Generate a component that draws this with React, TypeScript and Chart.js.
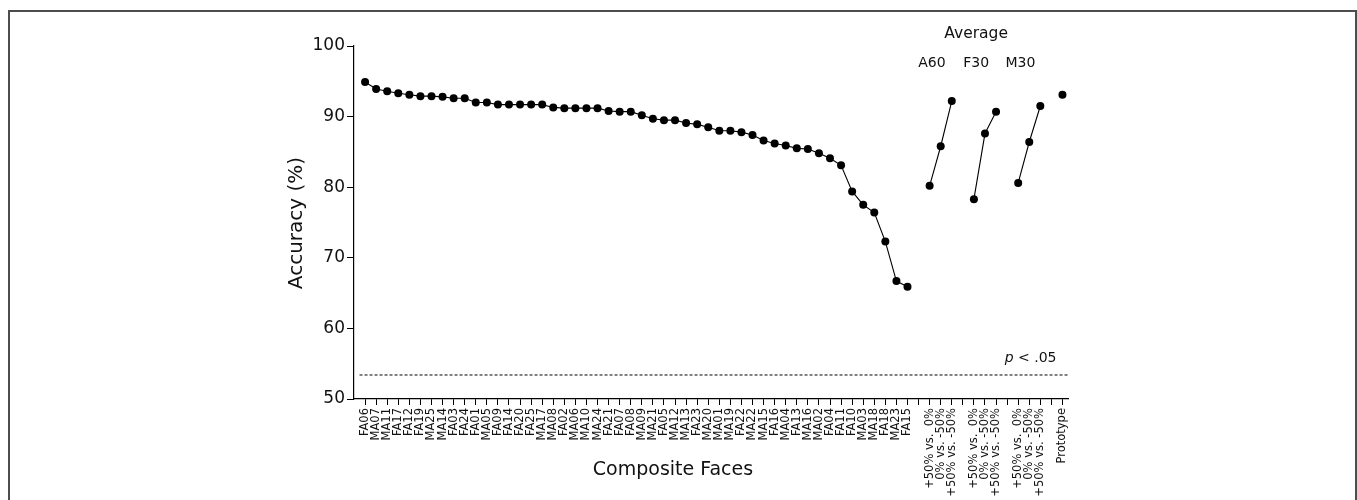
import React, { useEffect, useRef } from "react";
import { Chart, registerables } from "chart.js";

Chart.register(...registerables);

const faceLabels = [
  "FA06", "MA07", "MA11", "FA17", "FA12", "FA19", "MA25", "MA14", "FA03", "FA24",
  "FA01", "MA05", "FA09", "FA14", "FA20", "FA25", "MA17", "MA08", "FA02", "MA06",
  "MA10", "MA24", "FA21", "FA07", "FA08", "MA09", "MA21", "FA05", "MA12", "MA13",
  "FA23", "MA20", "MA01", "MA19", "FA22", "MA22", "MA15", "FA16", "MA04", "FA13",
  "MA16", "MA02", "FA04", "FA11", "FA10", "MA03", "MA18", "FA18", "MA23", "FA15",
];

const faceAccuracy = [
  94.9, 93.9, 93.6, 93.3, 93.1, 92.9, 92.9, 92.8, 92.6, 92.6,
  92.0, 92.0, 91.7, 91.7, 91.7, 91.7, 91.7, 91.3, 91.2, 91.2,
  91.2, 91.2, 90.8, 90.7, 90.7, 90.2, 89.7, 89.5, 89.5, 89.1,
  88.9, 88.5, 88.0, 88.0, 87.8, 87.4, 86.6, 86.2, 85.9, 85.5,
  85.4, 84.8, 84.1, 83.1, 79.4, 77.5, 76.4, 72.3, 66.7, 65.9,
];

const comparisonLabels = ["+50% vs.  0%", "0% vs. -50%", "+50% vs. -50%"];
const groupNames = ["A60", "F30", "M30"];
const a60Accuracy = [80.2, 85.8, 92.2];
const f30Accuracy = [78.3, 87.6, 90.7];
const m30Accuracy = [80.6, 86.4, 91.5];
const prototypeLabel = "Prototype";
const prototypeAccuracy = 93.1;
const chanceThreshold = 53.4;
const yMin = 50;
const yMax = 100;
const yStep = 10;

// Category slots: faces, gap, A60 x3, gap, F30 x3, gap, M30 x3, gap, Prototype
const xLabels: string[] = [
  ...faceLabels,
  "",
  ...comparisonLabels,
  "",
  ...comparisonLabels,
  "",
  ...comparisonLabels,
  "",
  prototypeLabel,
];

const a60Start = faceLabels.length + 1;
const f30Start = a60Start + 4;
const m30Start = f30Start + 4;
const protoIndex = m30Start + 4;

const FONT = "'DejaVu Sans', Verdana, sans-serif";
const INK = "#111111";

const toPoints = (vals: number[], start: number) =>
  vals.map((y, i) => ({ x: start + i, y }));

export default function App() {
  const ref = useRef<HTMLCanvasElement | null>(null);

  useEffect(() => {
    const canvas = ref.current;
    if (!canvas) return;

    const textPlugin = {
      id: "texts",
      afterDraw(chart: any) {
        const { ctx, scales } = chart;
        const xs = scales.x;
        const ys = scales.y;
        ctx.save();
        ctx.fillStyle = INK;
        ctx.textAlign = "center";
        ctx.textBaseline = "middle";

        // Axis titles
        ctx.font = `19px ${FONT}`;
        ctx.fillText("Composite Faces", 673, 470);
        ctx.save();
        ctx.translate(297, 223);
        ctx.rotate(-Math.PI / 2);
        ctx.font = `20px ${FONT}`;
        ctx.fillText("Accuracy (%)", 0, 0);
        ctx.restore();

        // Group annotations
        ctx.font = `15.5px ${FONT}`;
        ctx.fillText("Average", xs.getPixelForValue(f30Start + 0.2), 34);
        ctx.font = `14px ${FONT}`;
        [a60Start, f30Start, m30Start].forEach((s, i) => {
          ctx.fillText(groupNames[i], xs.getPixelForValue(s + 0.2), 63);
        });

        // p < .05
        const py = ys.getPixelForValue(chanceThreshold) - 17;
        const right = xs.getPixelForValue(protoIndex) - 6;
        ctx.textAlign = "left";
        ctx.font = `14px ${FONT}`;
        const rest = " < .05";
        const restW = ctx.measureText(rest).width;
        ctx.font = `italic 14px ${FONT}`;
        const pW = ctx.measureText("p").width;
        const startX = right - restW - pW;
        ctx.fillText("p", startX, py);
        ctx.font = `14px ${FONT}`;
        ctx.fillText(rest, startX + pW, py);
        ctx.restore();
      },
    };

    const pointStyle = {
      borderColor: "#000",
      backgroundColor: "#000",
      borderWidth: 1.1,
      pointRadius: 4,
      pointBorderWidth: 0,
      pointBackgroundColor: "#000",
      showLine: true,
      tension: 0,
    };

    const chart = new Chart(canvas, {
      type: "scatter",
      data: {
        datasets: [
          { label: "Faces", data: toPoints(faceAccuracy, 0), ...pointStyle },
          { label: "A60", data: toPoints(a60Accuracy, a60Start), ...pointStyle },
          { label: "F30", data: toPoints(f30Accuracy, f30Start), ...pointStyle },
          { label: "M30", data: toPoints(m30Accuracy, m30Start), ...pointStyle },
          { label: "Prototype", data: [{ x: protoIndex, y: prototypeAccuracy }], ...pointStyle },
          {
            label: "p < .05",
            data: [
              { x: -0.5, y: chanceThreshold },
              { x: xLabels.length - 0.5, y: chanceThreshold },
            ],
            showLine: true,
            borderColor: "#000",
            borderWidth: 1,
            borderDash: [3, 2],
            pointRadius: 0,
          },
        ],
      },
      options: {
        animation: false,
        responsive: false,
        devicePixelRatio: 1,
        layout: { padding: { left: 294, right: 289, top: 46, bottom: 1 } },
        plugins: { legend: { display: false }, tooltip: { enabled: false } },
        scales: {
          x: {
            type: "linear",
            min: -1,
            max: xLabels.length - 0.5,
            afterBuildTicks: (scale: any) => {
              scale.ticks = xLabels.map((_, i) => ({ value: i }));
            },
            afterFit: (scale: any) => {
              scale.height = 100;
            },
            ticks: {
              autoSkip: false,
              minRotation: 90,
              maxRotation: 90,
              padding: 3,
              color: INK,
              font: { family: FONT, size: 11.5 },
              callback: (v: any) => xLabels[Math.round(Number(v))] ?? "",
            },
            grid: {
              display: true,
              drawOnChartArea: false,
              drawTicks: true,
              tickLength: 6,
              color: "#000",
              lineWidth: 1,
            },
            border: { display: true, color: "#000", width: 1.2 },
          },
          y: {
            type: "linear",
            min: yMin,
            max: yMax,
            afterFit: (scale: any) => {
              scale.width = 60;
            },
            ticks: {
              stepSize: yStep,
              padding: 2,
              color: INK,
              font: { family: FONT, size: 17 },
            },
            grid: {
              display: true,
              drawOnChartArea: false,
              drawTicks: true,
              tickLength: 7,
              color: "#000",
              lineWidth: 1,
            },
            border: { display: true, color: "#000", width: 1.2 },
          },
        },
      },
      plugins: [textPlugin],
    } as any);

    return () => chart.destroy();
  }, []);

  return (
    <>
      <div
        style={{
          position: "fixed",
          left: 8,
          top: 10,
          width: 1349,
          height: 520,
          border: "2px solid #4d4d4d",
          boxSizing: "border-box",
        }}
      />
      <canvas
        ref={ref}
        width={1357}
        height={500}
        style={{ position: "fixed", left: 0, top: 0, width: 1357, height: 500 }}
      />
    </>
  );
}
